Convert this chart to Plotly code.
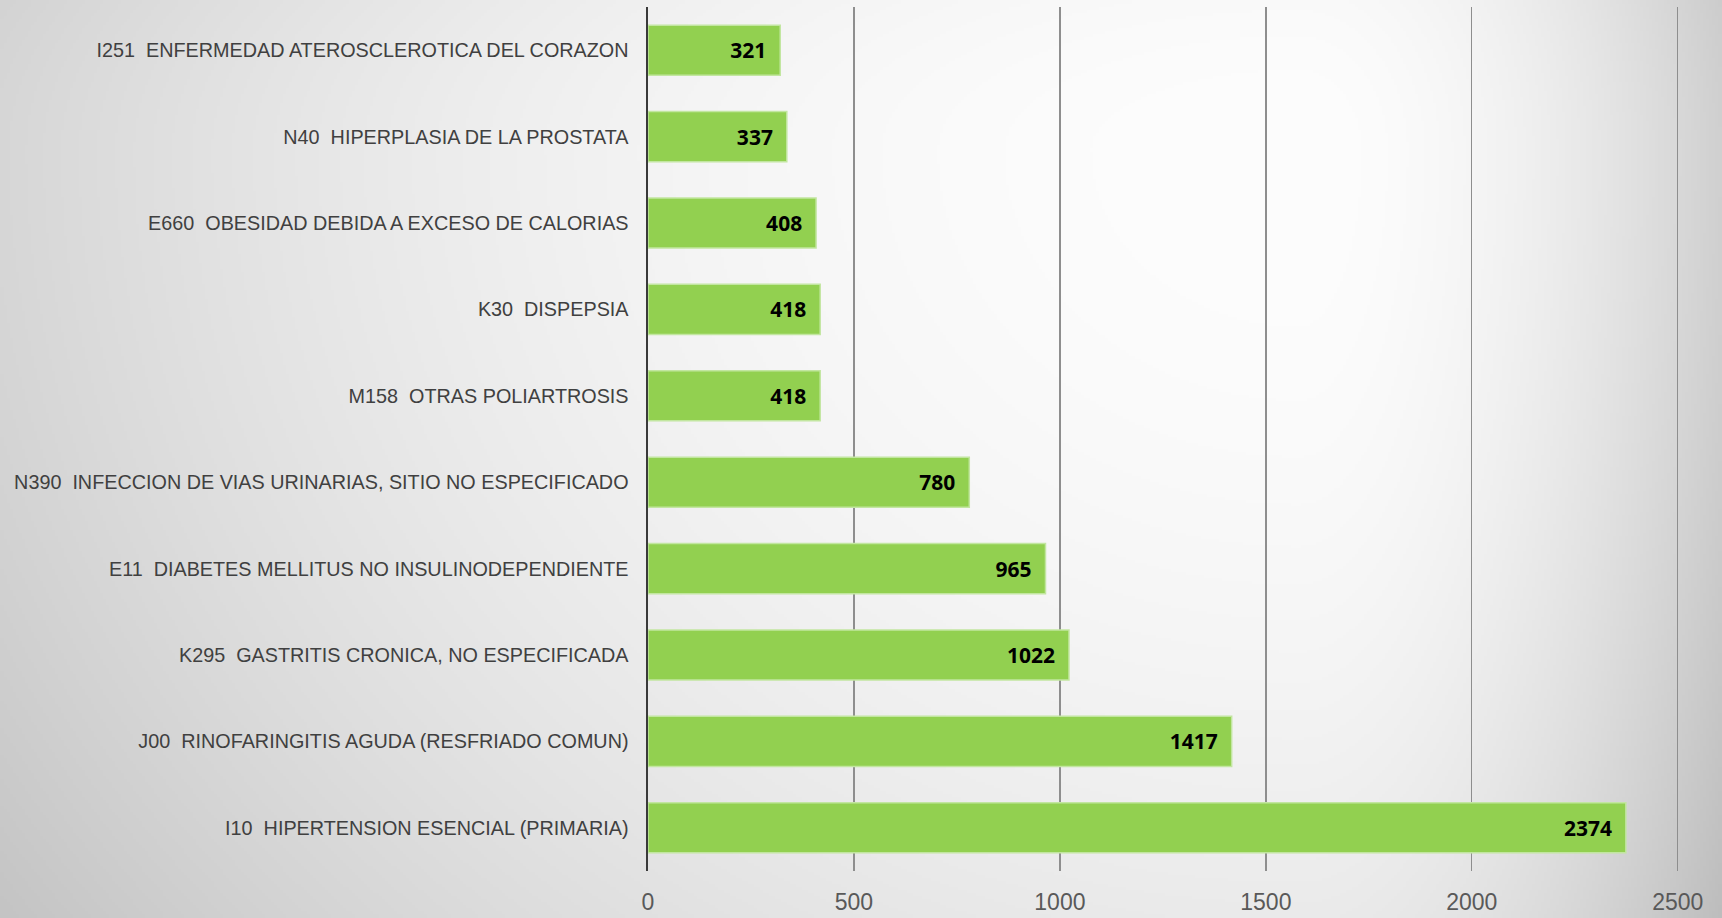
import base64, struct, zlib
import numpy as np
import plotly.graph_objects as go

# ---------------- data ----------------
categories = [
    "I10\u00a0 HIPERTENSION ESENCIAL (PRIMARIA)",
    "J00\u00a0 RINOFARINGITIS AGUDA (RESFRIADO COMUN)",
    "K295\u00a0 GASTRITIS CRONICA, NO ESPECIFICADA",
    "E11\u00a0 DIABETES MELLITUS NO INSULINODEPENDIENTE",
    "N390\u00a0 INFECCION DE VIAS URINARIAS, SITIO NO ESPECIFICADO",
    "M158\u00a0 OTRAS POLIARTROSIS",
    "K30\u00a0 DISPEPSIA",
    "E660\u00a0 OBESIDAD DEBIDA A EXCESO DE CALORIAS",
    "N40\u00a0 HIPERPLASIA DE LA PROSTATA",
    "I251\u00a0 ENFERMEDAD ATEROSCLEROTICA DEL CORAZON",
]
values = [2374, 1417, 1022, 965, 780, 418, 418, 408, 337, 321]
x_ticks = [0, 500, 1000, 1500, 2000, 2500]

# ---------------- figure geometry ----------------
W, H = 1722, 918
ML, MR, MT, MB = 648, 43, 7, 47
PW, PH = W - ML - MR, H - MT - MB

# ---------------- background gradient (png data uri) ----------------
def gradient_png(w, h):
    sx = W / w
    sy = H / h
    xs = (np.arange(w) + 0.5) * sx
    ys = (np.arange(h) + 0.5) * sy
    X, Y = np.meshgrid(xs, ys)
    cx, cy = 1300.0, 150.0
    ax = np.where(X < cx, 1650.0, 494.0)
    ay = np.where(Y < cy, 640.0, 1400.0)
    r2 = ((X - cx) / ax) ** 2 + ((Y - cy) / ay) ** 2
    v = np.clip(253 - 62 * r2, 185, 255).astype(np.uint8)
    raw = b"".join(b"\x00" + bytes(np.repeat(row, 3)) for row in v)
    def chunk(t, d):
        c = struct.pack(">I", len(d)) + t + d
        return c + struct.pack(">I", zlib.crc32(t + d) & 0xFFFFFFFF)
    png = b"\x89PNG\r\n\x1a\n"
    png += chunk(b"IHDR", struct.pack(">IIBBBBB", w, h, 8, 2, 0, 0, 0))
    png += chunk(b"IDAT", zlib.compress(raw, 9))
    png += chunk(b"IEND", b"")
    return "data:image/png;base64," + base64.b64encode(png).decode()

bg = gradient_png(574, 306)

fig = go.Figure()
fig.add_trace(go.Bar(
    y=categories,
    x=values,
    orientation="h",
    marker=dict(color="#92D050", line=dict(color="#C2E6A0", width=1.5)),
    texttemplate="%{x}\u00a0\u00a0",
    textposition="inside",
    insidetextanchor="end",
    textangle=0,
    constraintext="none",
    textfont=dict(family="Open Sans", size=21, color="#000000", weight="bold"),
    hoverinfo="skip",
))

fig.update_layout(
    width=W, height=H,
    margin=dict(l=ML, r=MR, t=MT, b=MB, pad=0, autoexpand=False),
    paper_bgcolor="rgba(0,0,0,0)",
    plot_bgcolor="rgba(0,0,0,0)",
    bargap=0.42,
    showlegend=False,
    images=[dict(
        source=bg, xref="paper", yref="paper",
        x=-ML / PW, y=1 + MT / PH, sizex=W / PW, sizey=H / PH,
        xanchor="left", yanchor="top", sizing="stretch", layer="below",
    )],
)
fig.update_xaxes(
    range=[0, 2503],
    tickvals=x_ticks,
    ticktext=[str(t) for t in x_ticks],
    showgrid=True, gridcolor="#8E8E8E", gridwidth=1.3,
    zeroline=False, showline=False, ticks="",
    automargin=False,
    ticklabelstandoff=15,
    tickfont=dict(family="Liberation Sans, Arial, sans-serif", size=23, color="#595959"),
)
fig.update_yaxes(
    categoryorder="array", categoryarray=categories,
    showline=True, linecolor="#3A3A3A", linewidth=2.5,
    showgrid=False, zeroline=False, ticks="",
    automargin=False,
    ticklabelstandoff=13,
    tickfont=dict(family="Liberation Sans, Arial, sans-serif", size=19.8, color="#404040"),
)

fig.write_html(
    "out.html",
    config={"displayModeBar": False, "staticPlot": True},
    post_script="document.body.style.margin='0';document.body.style.overflow='hidden';",
)
